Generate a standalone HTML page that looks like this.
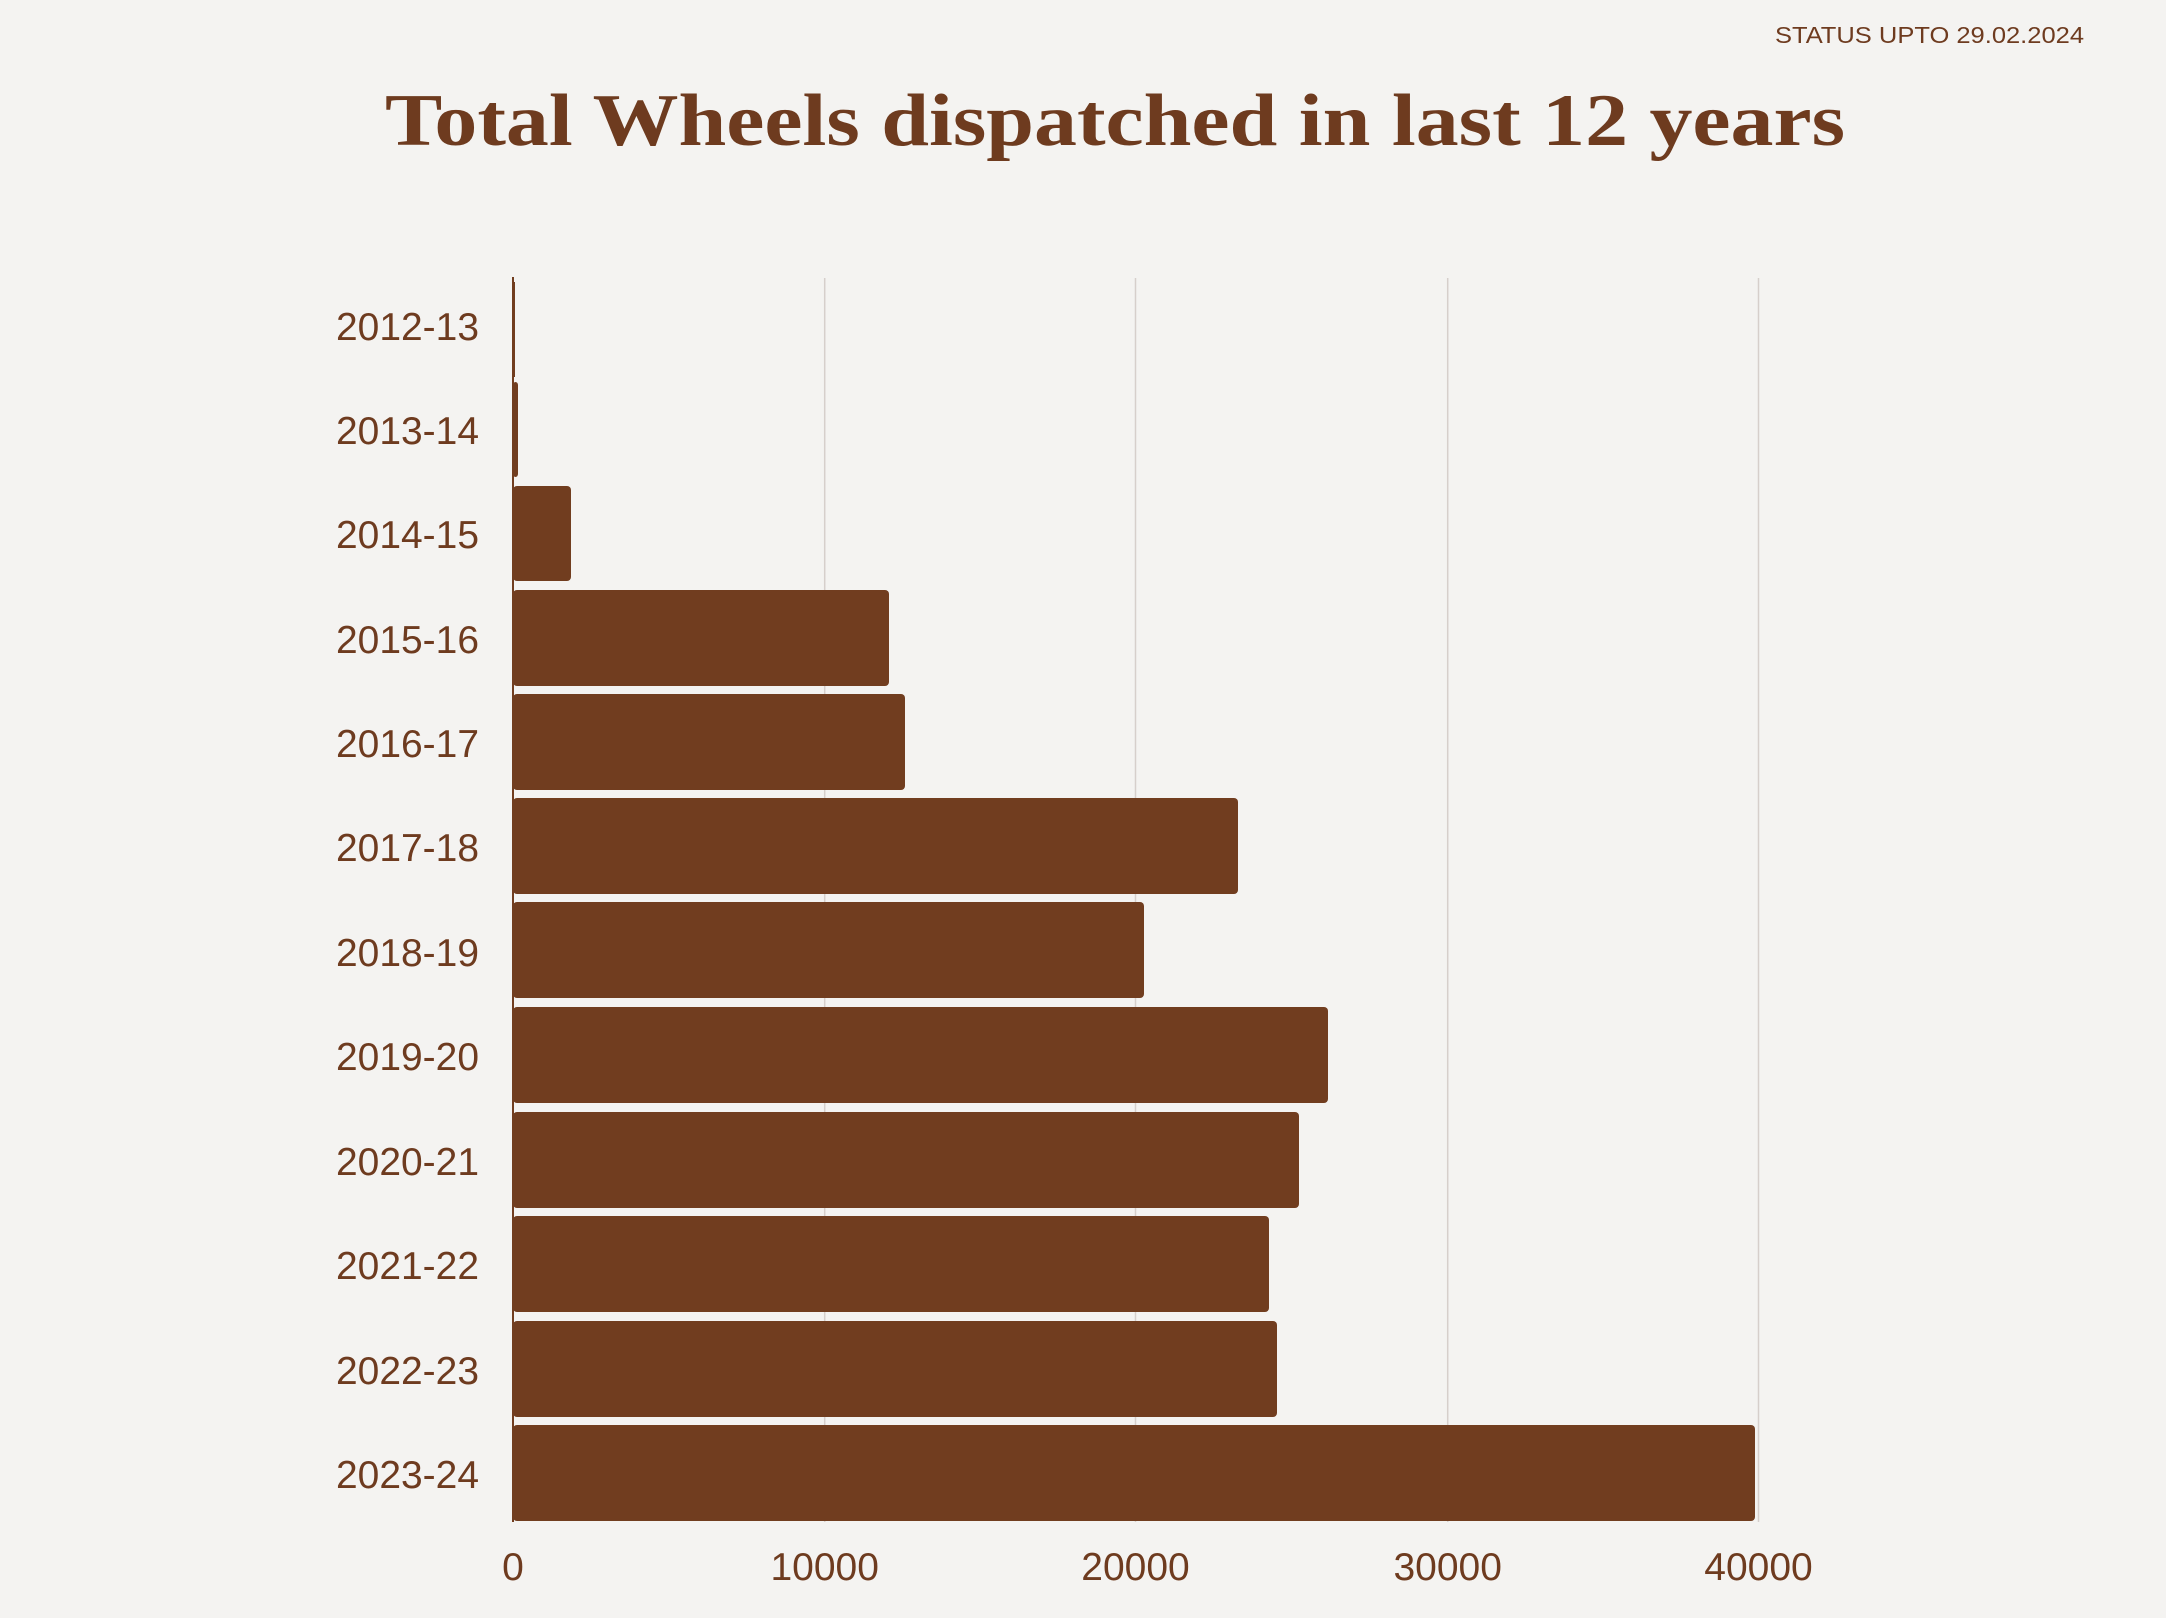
<!DOCTYPE html>
<html><head><meta charset="utf-8"><style>
html,body{margin:0;padding:0;background:#f4f3f1;}
svg{display:block;}
</style></head><body>
<svg width="2166" height="1618" xmlns="http://www.w3.org/2000/svg">
<rect width="2166" height="1618" fill="#f4f3f1"/>
<text x="2084" y="43" text-anchor="end" font-family="Liberation Sans, sans-serif" font-size="23" fill="#6e3b1f" textLength="309" lengthAdjust="spacingAndGlyphs">STATUS UPTO 29.02.2024</text>
<text x="1115" y="145" text-anchor="middle" font-family="Liberation Serif, serif" font-weight="bold" font-size="74" fill="#6e3b1f" textLength="1460" lengthAdjust="spacingAndGlyphs">Total Wheels dispatched in last 12 years</text>
<g stroke="#d6cfcb" stroke-width="1.5">
<line x1="824.7" y1="278" x2="824.7" y2="1522"/>
<line x1="1135.5" y1="278" x2="1135.5" y2="1522"/>
<line x1="1447.7" y1="278" x2="1447.7" y2="1522"/>
<line x1="1758.5" y1="278" x2="1758.5" y2="1522"/>
</g>
<g fill="#713d1f">
<rect x="513" y="282" width="2" height="95"/>
<rect x="513" y="382" width="5" height="95" rx="3"/>
<rect x="513" y="486" width="58" height="95" rx="4"/>
<rect x="513" y="590" width="376" height="96" rx="4"/>
<rect x="513" y="694" width="392" height="96" rx="4"/>
<rect x="513" y="798" width="725" height="96" rx="4"/>
<rect x="513" y="902" width="631" height="96" rx="4"/>
<rect x="513" y="1007" width="815" height="96" rx="4"/>
<rect x="513" y="1112" width="786" height="96" rx="4"/>
<rect x="513" y="1216" width="756" height="96" rx="4"/>
<rect x="513" y="1321" width="764" height="96" rx="4"/>
<rect x="513" y="1425" width="1242" height="96" rx="4"/>
</g>
<line x1="513" y1="277" x2="513" y2="1522" stroke="#713d1f" stroke-width="2"/>
<g font-family="Liberation Sans, sans-serif" font-size="39" fill="#6e3b1f" text-anchor="end">
<text x="479" y="340" textLength="143" lengthAdjust="spacingAndGlyphs">2012-13</text>
<text x="479" y="444" textLength="143" lengthAdjust="spacingAndGlyphs">2013-14</text>
<text x="479" y="548" textLength="143" lengthAdjust="spacingAndGlyphs">2014-15</text>
<text x="479" y="653" textLength="143" lengthAdjust="spacingAndGlyphs">2015-16</text>
<text x="479" y="757" textLength="143" lengthAdjust="spacingAndGlyphs">2016-17</text>
<text x="479" y="861" textLength="143" lengthAdjust="spacingAndGlyphs">2017-18</text>
<text x="479" y="966" textLength="143" lengthAdjust="spacingAndGlyphs">2018-19</text>
<text x="479" y="1070" textLength="143" lengthAdjust="spacingAndGlyphs">2019-20</text>
<text x="479" y="1175" textLength="143" lengthAdjust="spacingAndGlyphs">2020-21</text>
<text x="479" y="1279" textLength="143" lengthAdjust="spacingAndGlyphs">2021-22</text>
<text x="479" y="1384" textLength="143" lengthAdjust="spacingAndGlyphs">2022-23</text>
<text x="479" y="1488" textLength="143" lengthAdjust="spacingAndGlyphs">2023-24</text>
</g>
<g font-family="Liberation Sans, sans-serif" font-size="39" fill="#6e3b1f" text-anchor="middle">
<text x="513" y="1580">0</text>
<text x="824.7" y="1580">10000</text>
<text x="1135.5" y="1580">20000</text>
<text x="1447.7" y="1580">30000</text>
<text x="1758.5" y="1580">40000</text>
</g>
</svg>
</body></html>
